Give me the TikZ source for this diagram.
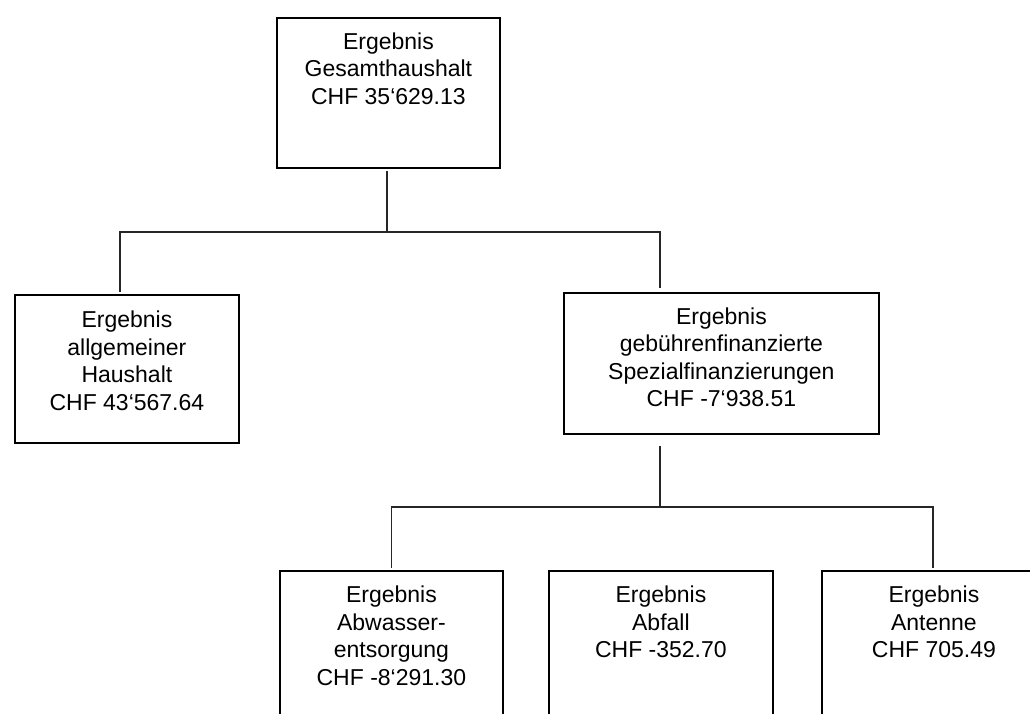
\documentclass[tikz,border=0pt]{standalone}
\usepackage{fontspec}
\setmainfont{Liberation Sans}
\tikzset{
  x=1pt, y=-1pt,
  box/.style={draw=black, line width=2.8pt, rectangle, inner sep=0pt, anchor=north west, fill=white},
  txt/.style={anchor=north, align=center, inner sep=0pt, font=\fontsize{23}{27.5}\selectfont},
  conn/.style={draw=black!85, line width=1.3pt}
}
\begin{document}
\begin{tikzpicture}
\useasboundingbox (0,0) rectangle (1030,713);
\clip (0,0) rectangle (1030,713);
\fill[white] (0,0) rectangle (1030,713);
% bus levels
\coordinate (busA) at (0,232);
\coordinate (busB) at (0,507);
% boxes
\node[box, minimum width=223pt, minimum height=150pt] (top) at (275.5,16.5) {};
\node[box, minimum width=224pt, minimum height=148pt] (left) at (13.5,293.5) {};
\node[box, minimum width=315pt, minimum height=141pt] (mid) at (562.5,291.5) {};
\node[box, minimum width=223pt, minimum height=200pt] (b1) at (278.5,569.5) {};
\node[box, minimum width=224pt, minimum height=200pt] (b2) at (547.5,569.5) {};
\node[box, minimum width=224pt, minimum height=200pt] (b3) at (820.5,569.5) {};
% texts
\node[txt] (ttop) at ([yshift=-16pt]top.north) {Ergebnis\\Gesamthaushalt\\CHF 35‘629.13};
\node[txt] (tleft) at ([yshift=-17.5pt]left.north) {Ergebnis\\allgemeiner\\Haushalt\\CHF 43‘567.64};
\node[txt] (tmid) at ([yshift=-16pt]mid.north) {Ergebnis\\gebührenfinanzierte\\Spezialfinanzierungen\\CHF -7‘938.51};
\node[txt] (tb1) at ([yshift=-16.5pt]b1.north) {Ergebnis\\Abwasser-\\entsorgung\\CHF -8‘291.30};
\node[txt] (tb2) at ([yshift=-16.5pt]b2.north) {Ergebnis\\Abfall\\CHF -352.70};
\node[txt] (tb3) at ([yshift=-16.5pt]b3.north) {Ergebnis\\Antenne\\CHF 705.49};
% connectors
\draw[conn] ([xshift=-1.5pt,yshift=-1.4pt]top.south) -- ([xshift=-1.5pt]top.south |- busA);
\draw[conn] ([xshift=-7pt,yshift=1.4pt]left.north) |- ([xshift=-61.5pt]mid.north |- busA) -- ([xshift=-61.5pt,yshift=4pt]mid.north);
\draw[conn] ([xshift=-61.5pt,yshift=-11pt]mid.south) -- ([xshift=-61.5pt]mid.south |- busB);
\draw[conn] ([yshift=1.4pt]b1.north) |- ([xshift=-1pt]b3.north |- busB) -- ([xshift=-1pt,yshift=1.4pt]b3.north);
\end{tikzpicture}
\end{document}
